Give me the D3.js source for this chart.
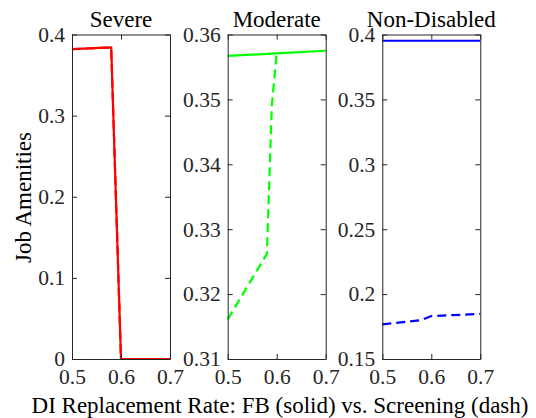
<!DOCTYPE html>
<html><head><meta charset="utf-8">
<script src="https://cdn.jsdelivr.net/npm/d3@7"></script>
<style>body{margin:0;background:#fff;}</style>
</head><body>
<svg id="c" width="536" height="418"></svg>
<script>
const titles = ["Severe", "Moderate", "Non-Disabled"];
const colors = ["#ff0000", "#00ff00", "#0000ff"];
const xTicks = [0.5, 0.6, 0.7];
const yDomains = [[0, 0.4], [0.31, 0.36], [0.15, 0.4]];
const yTicks = [[0, 0.1, 0.2, 0.3, 0.4], [0.31, 0.32, 0.33, 0.34, 0.35, 0.36], [0.15, 0.2, 0.25, 0.3, 0.35, 0.4]];
const yTickLabels = [["0","0.1","0.2","0.3","0.4"],["0.31","0.32","0.33","0.34","0.35","0.36"],["0.15","0.2","0.25","0.3","0.35","0.4"]];
// solid (FB)
const severeFB = [[0.5, 0.382], [0.58, 0.384], [0.6, 0.0], [0.7, 0.0]];
const moderateFB = [[0.5, 0.3567], [0.6, 0.3571], [0.7, 0.3575]];
const nondisFB = [[0.5, 0.3952], [0.6, 0.3952], [0.7, 0.3952]];
// dashed (Screening)
const severeSC = [[0.5, 0.382], [0.58, 0.384], [0.6, 0.0], [0.7, 0.0]];
const moderateSC = [[0.5, 0.3161], [0.58, 0.3262], [0.59, 0.349], [0.6, 0.3571]];
const nondisSC = [[0.5, 0.1767], [0.58, 0.1800], [0.6, 0.1831], [0.7, 0.1847]];

const FONT = "'Liberation Serif', Tinos, 'Times New Roman', Times, 'DejaVu Serif', serif";
const solids = [severeFB, moderateFB, nondisFB];
const dashes = [severeSC, moderateSC, nondisSC];
const lefts = [72, 227.7, 382.3];
const W = 98, plotTop = 34.5, plotBottom = 359;
const svg = d3.select("#c");
const axCol = "#262626";

for (let i = 0; i < 3; i++) {
  const x = d3.scaleLinear().domain([0.5, 0.7]).range([lefts[i], lefts[i] + W]);
  const y = d3.scaleLinear().domain(yDomains[i]).range([plotBottom, plotTop]);
  const g = svg.append("g");
  const line = d3.line().x(d => x(d[0])).y(d => y(d[1]));
  g.append("path").datum(dashes[i]).attr("d", line).attr("fill", "none")
    .attr("stroke", colors[i]).attr("stroke-width", 2.2).attr("stroke-dasharray", "9,5");
  g.append("path").datum(solids[i]).attr("d", line).attr("fill", "none")
    .attr("stroke", colors[i]).attr("stroke-width", 2.2);
  const bx = g.append("g").attr("transform", `translate(0,${plotBottom})`)
    .call(d3.axisBottom(x).tickValues(xTicks).tickSizeInner(-5).tickSizeOuter(0).tickFormat(d3.format(".1f")).tickPadding(10));
  const tx = g.append("g").attr("transform", `translate(0,${plotTop})`)
    .call(d3.axisTop(x).tickValues(xTicks).tickSizeInner(-5).tickSizeOuter(0).tickFormat(""));
  const ly = g.append("g").attr("transform", `translate(${lefts[i]},0)`)
    .call(d3.axisLeft(y).tickValues(yTicks[i]).tickSizeInner(-5).tickSizeOuter(0)
      .tickFormat((d, k) => yTickLabels[i][k]).tickPadding(7));
  const ry = g.append("g").attr("transform", `translate(${lefts[i] + W},0)`)
    .call(d3.axisRight(y).tickValues(yTicks[i]).tickSizeInner(-5).tickSizeOuter(0).tickFormat(""));
  [bx, tx, ly, ry].forEach(a => {
    a.attr("font-family", null).attr("font-size", null);
    a.selectAll("path.domain").attr("stroke", axCol).attr("stroke-width", 1);
    a.selectAll(".tick line").attr("stroke", axCol).attr("stroke-width", 1);
    a.selectAll("text").style("font-size", "21.5px").style("font-family", FONT).attr("fill", "#262626");
  });
  g.append("text").attr("x", lefts[i] + W / 2).attr("y", 26.5).attr("text-anchor", "middle")
    .style("font-size", "23px").style("font-family", FONT).attr("fill", "#000").text(titles[i]);
}
svg.append("text").attr("x", 280).attr("y", 413).attr("text-anchor", "middle")
  .style("font-size", "23px").style("font-family", FONT).attr("fill", "#000")
  .text("DI Replacement Rate: FB (solid) vs. Screening (dash)");
svg.append("text").attr("transform", "translate(31,197.5) rotate(-90)").attr("text-anchor", "middle")
  .style("font-size", "23px").style("font-family", FONT).attr("fill", "#000").text("Job Amenities");
</script>
</body></html>
